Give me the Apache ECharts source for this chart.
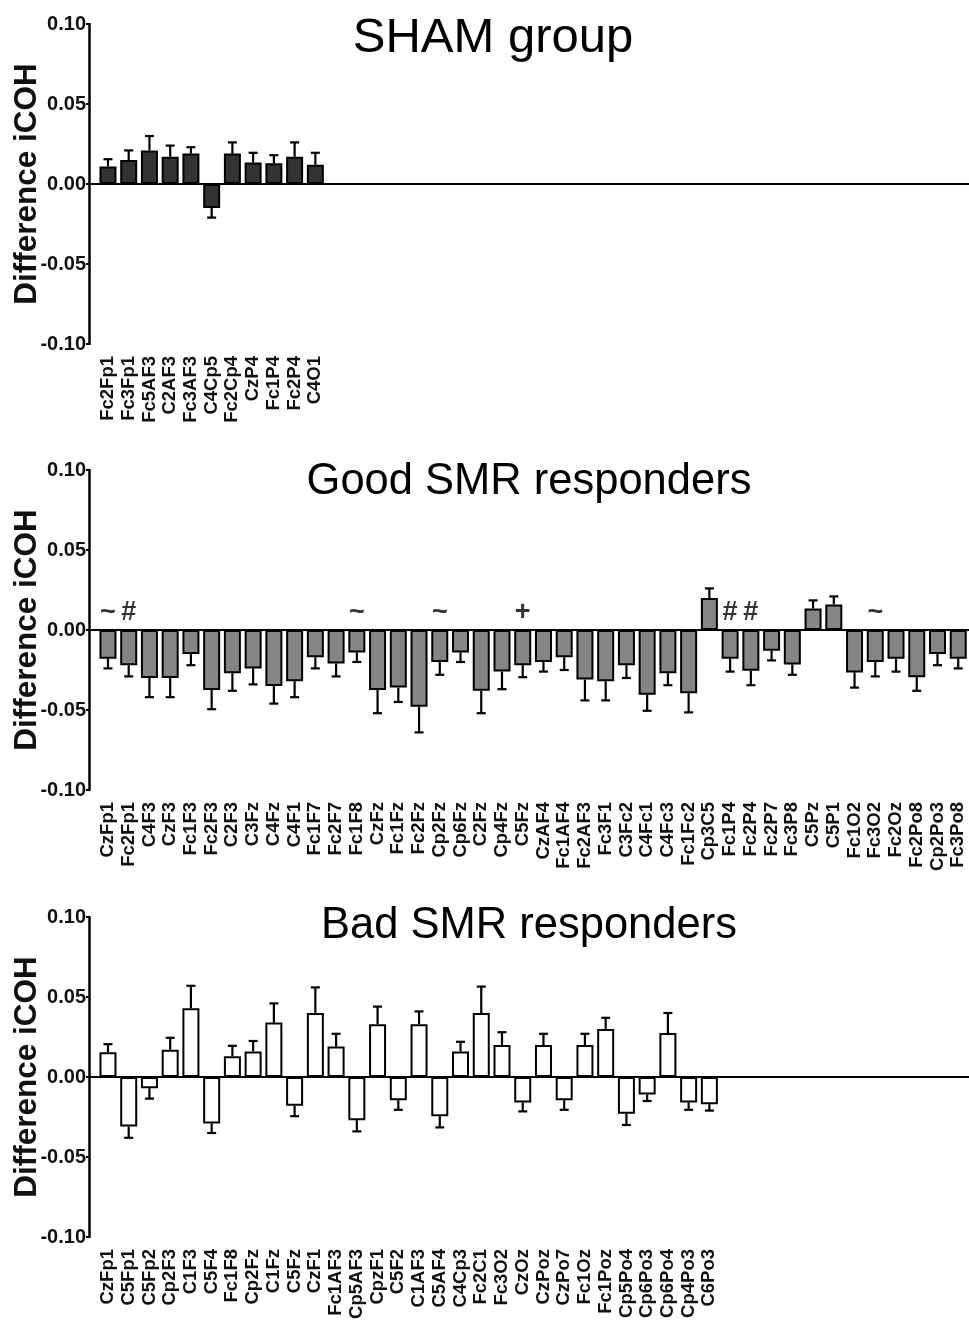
<!DOCTYPE html>
<html>
<head>
<meta charset="utf-8">
<script src="https://cdn.jsdelivr.net/npm/echarts@6/dist/echarts.min.js"></script>
<style>html,body{margin:0;padding:0;background:#fff;}#c{width:969px;height:1328px;}</style>
</head>
<body>
<div id="c"></div>
<script>
// ---------- DATA ----------
const shamCats = ['Fc2Fp1','Fc3Fp1','Fc5AF3','C2AF3','Fc3AF3','C4Cp5','Fc2Cp4','CzP4','Fc1P4','Fc2P4','C4O1'];
const shamVals = [0.011, 0.015, 0.021, 0.017, 0.019, -0.015, 0.019, 0.0135, 0.013, 0.017, 0.012];
const shamErr  = [0.0045, 0.006, 0.009, 0.007, 0.004, 0.006, 0.007, 0.006, 0.005, 0.009, 0.0075];

const goodCats = ['CzFp1','Fc2Fp1','C4F3','CzF3','Fc1F3','Fc2F3','C2F3','C3Fz','C4Fz','C4F1','Fc1F7','Fc2F7','Fc1F8','CzFz','Fc1Fz','Fc2Fz','Cp2Fz','Cp6Fz','C2Fz','Cp4Fz','C5Fz','CzAF4','Fc1AF4','Fc2AF3','Fc3F1','C3Fc2','C4Fc1','C4Fc3','Fc1Fc2','Cp3C5','Fc1P4','Fc2P4','Fc2P7','Fc3P8','C5Pz','C5P1','Fc1O2','Fc3O2','Fc2Oz','Fc2Po8','Cp2Po3','Fc3Po8'];
const goodVals = [-0.018,-0.022,-0.030,-0.030,-0.015,-0.0375,-0.027,-0.024,-0.035,-0.032,-0.017,-0.021,-0.014,-0.0375,-0.036,-0.048,-0.020,-0.014,-0.038,-0.026,-0.022,-0.020,-0.017,-0.031,-0.032,-0.022,-0.0405,-0.027,-0.0395,0.020,-0.018,-0.0255,-0.013,-0.0215,0.0135,0.016,-0.0265,-0.020,-0.018,-0.0295,-0.015,-0.018];
const goodErr  = [0.006,0.007,0.012,0.012,0.007,0.012,0.011,0.010,0.011,0.010,0.007,0.008,0.006,0.0145,0.009,0.016,0.008,0.006,0.014,0.011,0.0075,0.006,0.008,0.013,0.012,0.008,0.010,0.0075,0.012,0.006,0.008,0.009,0.006,0.0065,0.005,0.005,0.0095,0.009,0.008,0.0085,0.007,0.006];
const goodMarks = [[0,'~'],[1,'#'],[12,'~'],[16,'~'],[20,'+'],[30,'#'],[31,'#'],[37,'~']];
const markLevel = 0.011;

const badCats = ['CzFp1','C5Fp1','C5Fp2','Cp2F3','C1F3','C5F4','Fc1F8','Cp2Fz','C1Fz','C5Fz','CzF1','Fc1AF3','Cp5AF3','CpzF1','C5F2','C1AF3','C5AF4','C4Cp3','Fc2C1','Fc3O2','CzOz','CzPoz','CzPo7','Fc1Oz','Fc1Poz','Cp5Po4','Cp6Po3','Cp6Po4','Cp4Po3','C6Po3'];
const badVals = [0.0155,-0.031,-0.007,0.017,0.043,-0.029,0.013,0.016,0.034,-0.018,0.040,0.019,-0.027,0.033,-0.0145,0.033,-0.0245,0.016,0.040,0.020,-0.016,0.020,-0.0145,0.020,0.030,-0.023,-0.011,0.0275,-0.016,-0.017];
const badErr  = [0.005,0.007,0.0065,0.0075,0.014,0.006,0.0065,0.0065,0.012,0.0065,0.016,0.008,0.007,0.011,0.006,0.008,0.007,0.006,0.0165,0.008,0.0055,0.007,0.006,0.007,0.007,0.007,0.004,0.0125,0.0045,0.004];

const nSlots = 42;

// ---------- BUILD ----------
const FONT = '"Liberation Sans", Arial, Helvetica, sans-serif';
const grids = [], xAxes = [], yAxes = [], series = [], titles = [];

function panel(k, top, cats, vals, errs, fill, title, tSize, tLeft, tTop, marks) {
  const ga = 2 * k, gb = 2 * k + 1;
  const H = 320;
  grids.push({ left: 89, width: 880, top: top, height: H, outerBoundsMode: 'none', containLabel: false });
  grids.push({ left: 97.6, width: 871, top: top, height: H, outerBoundsMode: 'none', containLabel: false });
  const padded = cats.concat(new Array(nSlots - cats.length).fill(''));
  xAxes.push({
    gridIndex: ga, type: 'value', min: 0, max: 1,
    axisLine: { show: true, onZero: true, lineStyle: { color: '#000', width: 2 } },
    axisTick: { show: false }, axisLabel: { show: false }, splitLine: { show: false }
  });
  xAxes.push({
    gridIndex: gb, type: 'category', data: padded, position: 'bottom',
    axisLine: { show: false, onZero: false }, axisTick: { show: false },
    axisLabel: { interval: 0, rotate: 90, margin: 12, color: '#111',
      fontFamily: FONT, fontWeight: 'bold', fontSize: 18.5 },
    splitLine: { show: false }
  });
  yAxes.push({
    gridIndex: ga, type: 'value', min: -0.1, max: 0.1, interval: 0.05,
    axisLine: { show: true, onZero: false, lineStyle: { color: '#000', width: 2.5 } },
    axisTick: { show: true, length: 3, lineStyle: { color: '#000', width: 2 } },
    axisLabel: { margin: 3, color: '#111', fontFamily: FONT, fontWeight: 'bold', fontSize: 20,
      formatter: v => v.toFixed(2) },
    splitLine: { show: false },
    name: 'Difference iCOH', nameLocation: 'middle', nameRotate: 90, nameGap: 46,
    nameMoveOverlap: false,
    nameTextStyle: { color: '#111', fontFamily: FONT, fontWeight: 'bold', fontSize: 31.5 }
  });
  yAxes.push({ gridIndex: gb, type: 'value', min: -0.1, max: 0.1, show: false });
  titles.push({ text: title, left: tLeft, top: tTop, textAlign: 'center',
    textStyle: { fontFamily: FONT, fontWeight: 'normal', fontSize: tSize, color: '#000' } });
  series.push({
    type: 'bar', xAxisIndex: gb, yAxisIndex: gb, data: vals, barWidth: 17,
    itemStyle: { color: fill, borderColor: '#000', borderWidth: 2 }, z: 3
  });
  series.push({
    type: 'custom', xAxisIndex: gb, yAxisIndex: gb, z: 2,
    data: vals.map((v, i) => [i, v, errs[i]]),
    encode: { x: 0, y: 1 },
    renderItem: function (params, api) {
      const i = api.value(0), v = api.value(1), e = api.value(2);
      const s = v >= 0 ? 1 : -1;
      const p0 = api.coord([i, v]);
      const p1 = api.coord([i, v + s * e]);
      const st = { stroke: '#000', lineWidth: 2.2 };
      return { type: 'group', children: [
        { type: 'line', shape: { x1: p0[0], y1: p0[1], x2: p1[0], y2: p1[1] }, style: st },
        { type: 'line', shape: { x1: p1[0] - 4.5, y1: p1[1], x2: p1[0] + 4.5, y2: p1[1] }, style: st }
      ] };
    }
  });
  if (marks) {
    series.push({
      type: 'scatter', xAxisIndex: gb, yAxisIndex: gb, symbolSize: 0,
      data: marks.map(m => ({ value: [m[0], markLevel], name: m[1] })),
      label: { show: true, position: 'inside', formatter: p => p.name,
        fontFamily: FONT, fontSize: 27, fontWeight: 'bold', color: '#000' }, z: 4
    });
  }
}

panel(0, 24, shamCats, shamVals, shamErr, '#333333', 'SHAM group', 49, 488, 9, null);
panel(1, 470, goodCats, goodVals, goodErr, '#858585', 'Good SMR responders', 43.5, 524, 455, goodMarks);
panel(2, 917, badCats, badVals, badErr, '#ffffff', 'Bad SMR responders', 43.5, 524, 899, null);

const chart = echarts.init(document.getElementById('c'), null, { renderer: 'canvas' });
chart.setOption({
  animation: false,
  backgroundColor: '#fff',
  title: titles,
  grid: grids,
  xAxis: xAxes,
  yAxis: yAxes,
  series: series
});
</script>
</body>
</html>
